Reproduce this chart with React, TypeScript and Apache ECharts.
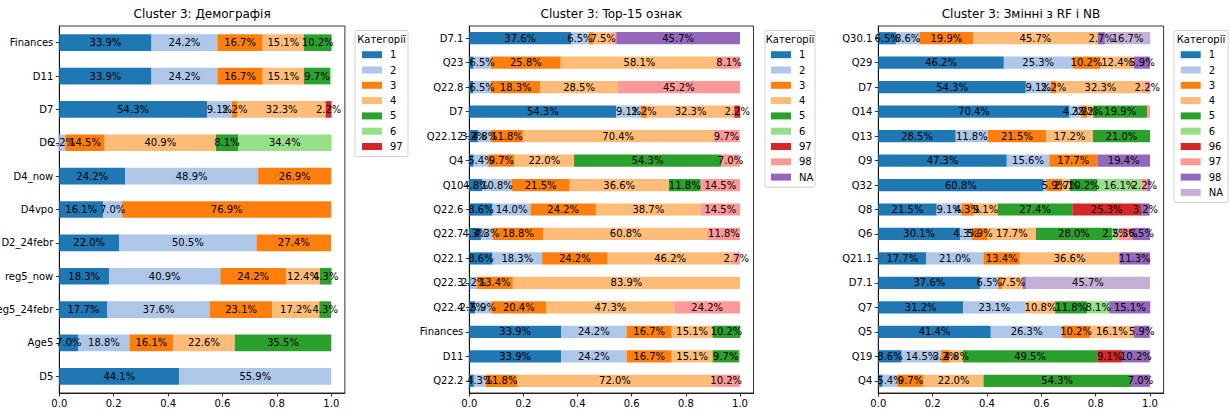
import React, { useEffect, useRef } from 'react';
import * as echarts from 'echarts';

const FONT = "'DejaVu Sans', 'Liberation Sans', sans-serif";
const COLORS = ['#1f77b4', '#aec7e8', '#ff7f0e', '#ffbb78', '#2ca02c', '#98df8a', '#d62728', '#ff9896', '#9467bd', '#c5b0d5'];

// ---------- Panel 1: Демографія ----------
const demoTitle = 'Cluster 3: Демографія';
const demoCats = ['Finances', 'D11', 'D7', 'D6', 'D4_now', 'D4vpo', 'D2_24febr', 'reg5_now', 'reg5_24febr', 'Age5', 'D5'];
const demoNames = ['1', '2', '3', '4', '5', '6', '97'];
const demo1 = [33.9, 33.9, 54.3, 0, 24.2, 16.1, 22.0, 18.3, 17.7, 7.0, 44.1];
const demo2 = [24.2, 24.2, 9.1, 2.2, 48.9, 7.0, 50.5, 40.9, 37.6, 18.8, 55.9];
const demo3 = [16.7, 16.7, 2.2, 14.5, 26.9, 76.9, 27.4, 24.2, 23.1, 16.1, 0];
const demo4 = [15.1, 15.1, 32.3, 40.9, 0, 0, 0, 12.4, 17.2, 22.6, 0];
const demo5 = [10.2, 9.7, 0, 8.1, 0, 0, 0, 4.3, 4.3, 35.5, 0];
const demo6 = [0, 0.4, 0, 34.4, 0, 0, 0, 0, 0, 0, 0];
const demo97 = [0, 0, 2.2, 0, 0, 0, 0, 0, 0, 0, 0];

// ---------- Panel 2: Top-15 ознак ----------
const topTitle = 'Cluster 3: Top-15 ознак';
const topCats = ['D7.1', 'Q23', 'Q22.8', 'D7', 'Q22.12', 'Q4', 'Q10', 'Q22.6', 'Q22.7', 'Q22.1', 'Q22.3', 'Q22.4', 'Finances', 'D11', 'Q22.2'];
const topNames = ['1', '2', '3', '4', '5', '6', '97', '98', 'NA'];
const top1 = [37.6, 1.5, 1.5, 54.3, 3.2, 1.6, 4.8, 8.6, 4.3, 8.6, 0.5, 2.2, 33.9, 33.9, 1.7];
const top2 = [6.5, 6.5, 6.5, 9.1, 4.8, 5.4, 10.8, 14.0, 4.3, 18.3, 2.2, 5.9, 24.2, 24.2, 4.3];
const top3 = [1.6, 25.8, 18.3, 2.2, 11.8, 9.7, 21.5, 24.2, 18.8, 24.2, 13.4, 20.4, 16.7, 16.7, 11.8];
const top4 = [7.5, 58.1, 28.5, 32.3, 70.4, 22.0, 36.6, 38.7, 60.8, 46.2, 83.9, 47.3, 15.1, 15.1, 72.0];
const top5 = [0, 0, 0, 0, 0, 54.3, 11.8, 0, 0, 0, 0, 0, 10.2, 9.7, 0];
const top6 = [0, 0, 0, 0, 0, 0, 0, 0, 0, 0, 0, 0, 0, 0.4, 0];
const top97 = [0, 0, 0, 2.2, 0, 0, 0, 0, 0, 0, 0, 0, 0, 0, 0];
const top98 = [1.1, 8.1, 45.2, 0, 9.7, 7.0, 14.5, 14.5, 11.8, 2.7, 0, 24.2, 0, 0, 10.2];
const topNA = [45.7, 0, 0, 0, 0, 0, 0, 0, 0, 0, 0, 0, 0, 0, 0];

// ---------- Panel 3: Змінні з RF і NB ----------
const rfTitle = 'Cluster 3: Змінні з RF і NB';
const rfCats = ['Q30.1', 'Q29', 'D7', 'Q14', 'Q13', 'Q9', 'Q32', 'Q8', 'Q6', 'Q21.1', 'D7.1', 'Q7', 'Q5', 'Q19', 'Q4'];
const rfNames = ['1', '2', '3', '4', '5', '6', '96', '97', '98', 'NA'];
const rf1 = [6.5, 46.2, 54.3, 70.4, 28.5, 47.3, 60.8, 21.5, 30.1, 17.7, 37.6, 31.2, 41.4, 8.6, 1.6];
const rf2 = [8.6, 25.3, 9.1, 4.3, 11.8, 15.6, 1.1, 9.1, 4.3, 21.0, 6.5, 23.1, 26.3, 14.5, 5.4];
const rf3 = [19.9, 10.2, 2.2, 2.2, 21.5, 17.7, 5.9, 4.3, 5.9, 13.4, 1.6, 0, 10.2, 3.2, 9.7];
const rf4 = [45.7, 12.4, 32.3, 2.2, 17.2, 0, 2.7, 9.1, 17.7, 36.6, 7.5, 10.8, 16.1, 4.8, 22.0];
const rf5 = [0, 0, 0, 19.9, 21.0, 0, 10.2, 27.4, 28.0, 0, 0, 11.8, 0, 49.5, 54.3];
const rf6 = [0, 0, 0, 0, 0, 0, 16.1, 0, 2.2, 0, 0, 8.1, 0, 0, 0];
const rf96 = [0, 0, 0, 0, 0, 0, 0, 25.3, 0, 0, 0, 0, 0, 9.1, 0];
const rf97 = [0, 0, 2.2, 1.0, 0, 0, 2.2, 0, 5.3, 0, 0, 0, 0, 0, 0];
const rf98 = [2.7, 5.9, 0, 0, 0, 19.4, 1.0, 3.2, 6.5, 11.3, 1.1, 15.1, 5.9, 10.2, 7.0];
const rfNA = [16.7, 0, 0, 0, 0, 0, 0, 0, 0, 0, 45.7, 0, 0, 0, 0];

const xTicks = [0, 0.2, 0.4, 0.6, 0.8, 1.0];

const panels = [
  { title: demoTitle, cats: demoCats, names: demoNames, values: [demo1, demo2, demo3, demo4, demo5, demo6, demo97],
    grid: { left: 59.3, top: 26, width: 285.6, height: 367 }, legendBox: { x: 355, w: 53, patchX: 362 } },
  { title: topTitle, cats: topCats, names: topNames, values: [top1, top2, top3, top4, top5, top6, top97, top98, topNA],
    grid: { left: 469.3, top: 26, width: 284.2, height: 367 }, legendBox: { x: 765, w: 50, patchX: 771 } },
  { title: rfTitle, cats: rfCats, names: rfNames, values: [rf1, rf2, rf3, rf4, rf5, rf6, rf96, rf97, rf98, rfNA],
    grid: { left: 878.3, top: 26, width: 285.3, height: 367 }, legendBox: { x: 1174, w: 54, patchX: 1180.7 } },
];

const ROW = 15.3;

export default function App() {
  const ref = useRef<HTMLDivElement>(null);
  useEffect(() => {
    if (!ref.current) return;
    const chart = echarts.init(ref.current, undefined, { renderer: 'svg' });

    const grids: any[] = [];
    const xAxes: any[] = [];
    const yAxes: any[] = [];
    const series: any[] = [];
    const legends: any[] = [];
    const graphics: any[] = [];

    panels.forEach((p, gi) => {
      grids.push({ ...p.grid, show: true, borderColor: '#000', borderWidth: 0.8, backgroundColor: 'transparent', containLabel: false, outerBoundsMode: 'none' });
      xAxes.push({
        type: 'value', gridIndex: gi, min: 0, max: 1.05,
        axisLine: { show: true, lineStyle: { color: '#000', width: 0.8 } },
        axisTick: { show: true, length: 3.5, lineStyle: { color: '#000', width: 0.8 }, customValues: xTicks },
        axisLabel: { customValues: xTicks, formatter: (v: number) => v.toFixed(1), color: '#000', fontSize: 10, fontFamily: FONT, margin: 5 },
        splitLine: { show: false },
      });
      yAxes.push({
        type: 'category', gridIndex: gi, data: p.cats, inverse: true,
        axisLine: { show: true, lineStyle: { color: '#000', width: 0.8 } },
        axisTick: { show: true, length: 3.5, alignWithLabel: true, interval: 0, lineStyle: { color: '#000', width: 0.8 } },
        axisLabel: { interval: 0, color: '#000', fontSize: 10, fontFamily: FONT, margin: 6 },
        splitLine: { show: false },
      });
      p.names.forEach((n, si) => {
        series.push({
          type: 'bar', name: n, xAxisIndex: gi, yAxisIndex: gi, stack: 'panel' + gi, barWidth: '50%',
          itemStyle: { color: COLORS[si] },
          label: {
            show: true, position: 'inside', color: '#000', fontSize: 10, fontFamily: FONT, textBorderWidth: 0,
            formatter: (prm: any) => (typeof prm.value === 'number' && prm.value * 100 >= 2 ? (prm.value * 100).toFixed(1) + '%' : ''),
          },
          emphasis: { disabled: true },
          data: p.values[si].map((v) => (v === 0 ? '-' : v / 100)),
        });
      });
      const lb = p.legendBox;
      const n = p.names.length;
      const boxTop = 30.5;
      const boxH = 19 + n * ROW;
      graphics.push({
        type: 'rect', shape: { x: lb.x, y: boxTop, width: lb.w, height: boxH, r: 2 },
        style: { fill: 'rgba(255,255,255,0.8)', stroke: '#d0d0d0', lineWidth: 1 }, z: 1,
      });
      graphics.push({
        type: 'text', x: lb.x + lb.w / 2, y: 39.5, z: 5,
        style: { text: 'Категорії', fontSize: 10, fontFamily: FONT, fill: '#000', align: 'center', verticalAlign: 'middle' },
      });
      graphics.push({
        type: 'text', x: p.grid.left + p.grid.width / 2, y: 14, z: 5,
        style: { text: p.title, fontSize: 12, fontFamily: FONT, fill: '#000', align: 'center', verticalAlign: 'middle' },
      });
      legends.push({
        orient: 'vertical', left: lb.patchX, top: 54.7 - ROW / 2, padding: 0, itemGap: 0,
        itemWidth: 20, itemHeight: 7, icon: 'rect', selectedMode: false, z: 10,
        textStyle: { fontSize: 10, color: '#000', fontFamily: FONT, lineHeight: ROW, padding: [0, 0, 0, 3] },
        data: p.names.map((nm, i) => ({ name: nm, itemStyle: { color: COLORS[i], borderWidth: 0 } })),
      });
    });

    chart.setOption({
      animation: false,
      textStyle: { fontFamily: FONT },
      grid: grids,
      xAxis: xAxes,
      yAxis: yAxes,
      series,
      legend: legends,
      graphic: { elements: graphics },
    });
    return () => chart.dispose();
  }, []);
  return <div ref={ref} style={{ position: 'fixed', left: 0, top: 0, width: 1230, height: 412, background: '#fff' }} />;
}
